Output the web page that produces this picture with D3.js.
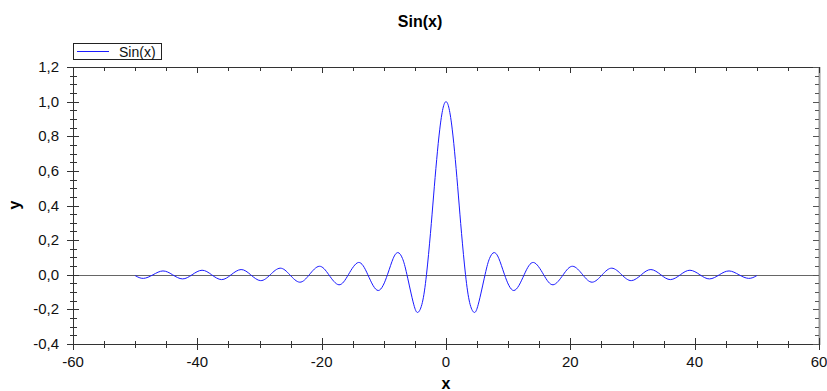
<!DOCTYPE html>
<html>
<head>
<meta charset="utf-8">
<script src="https://cdn.jsdelivr.net/npm/d3@7/dist/d3.min.js"></script>
<style>
  html, body { margin: 0; padding: 0; background: #fff; }
  svg { display: block; font-family: "Liberation Sans", Arial, sans-serif; }
</style>
</head>
<body>
<svg id="chart" width="827" height="391"></svg>
<script>
// ---- data ----
const chartTitle = "Sin(x)";
const seriesName = "Sin(x)";
const xLabel = "x";
const yLabel = "y";
const xTicks = [-60, -40, -20, 0, 20, 40, 60];
const yTicks = [-0.4, -0.2, 0.0, 0.2, 0.4, 0.6, 0.8, 1.0, 1.2];
const xValues = [
  -50.0, -48.68, -47.12, -45.53, -43.98, -42.39, -40.84, -39.24, -37.70, -36.10,
  -34.56, -32.96, -31.42, -29.81, -28.27, -26.67, -25.13, -23.52, -21.99, -20.37,
  -18.85, -17.22, -15.71, -14.07, -12.57, -10.90, -9.42, -8.5, -7.73, -7.0,
  -6.28, -5.2, -4.49, -3.8, -3.14, -2.5, -2.0, -1.5, -1.0, -0.5,
  0,
  0.5, 1.0, 1.5, 2.0, 2.5, 3.14, 3.8, 4.49, 5.2, 6.28,
  7.0, 7.73, 8.5, 9.42, 10.90, 12.57, 14.07, 15.71, 17.22, 18.85,
  20.37, 21.99, 23.52, 25.13, 26.67, 28.27, 29.81, 31.42, 32.96, 34.56,
  36.10, 37.70, 39.24, 40.84, 42.39, 43.98, 45.53, 47.12, 48.68, 50.0
];
const yValues = [
  -0.005, -0.021, 0, 0.022, 0, -0.024, 0, 0.026, 0, -0.028,
  0, 0.030, 0, -0.034, 0, 0.038, 0, -0.043, 0, 0.049,
  0, -0.058, 0, 0.071, 0, -0.091, 0, 0.094, 0.128, 0.094,
  0, -0.170, -0.217, -0.160, 0, 0.239, 0.455, 0.665, 0.841, 0.959,
  1.0,
  0.959, 0.841, 0.665, 0.455, 0.239, 0, -0.160, -0.217, -0.170, 0,
  0.094, 0.128, 0.094, 0, -0.091, 0, 0.071, 0, -0.058, 0,
  0.049, 0, -0.043, 0, 0.038, 0, -0.034, 0, 0.030, 0,
  -0.028, 0, 0.026, 0, -0.024, 0, 0.022, 0, -0.021, -0.005
];

// ---- layout ----
const svg = d3.select("#chart");
const padL = 73, padR = 819, padT = 67, padB = 344;

const x = d3.scaleLinear().domain([-60, 60]).range([padL, padR]);
const y = d3.scaleLinear().domain([-0.4, 1.2]).range([padB, padT]);

const fmt = d => d3.format(".1f")(d).replace(".", ",").replace("−", "-");
const xMinor = d3.range(-60, 60.001, 5);
const yMinor = d3.range(-0.4, 1.2001, 0.05);

// zero line
svg.append("line")
  .attr("x1", padL).attr("x2", padR)
  .attr("y1", Math.round(y(0)) + 0.5).attr("y2", Math.round(y(0)) + 0.5)
  .attr("stroke", "#666").attr("stroke-width", 1);

// curve
const pts = xValues.map((v, i) => [v, yValues[i]]);
svg.append("path")
  .datum(pts)
  .attr("fill", "none")
  .attr("stroke", "#1a1aff")
  .attr("stroke-width", 1)
  .attr("d", d3.line().x(d => x(d[0])).y(d => y(d[1])).curve(d3.curveNatural));

// frame
const frame = svg.append("g").attr("stroke", "#333").attr("stroke-width", 1);
frame.append("line").attr("x1", padL).attr("x2", padR).attr("y1", padT + 0.5).attr("y2", padT + 0.5);
frame.append("line").attr("x1", padL).attr("x2", padR).attr("y1", padB + 0.5).attr("y2", padB + 0.5);
frame.append("line").attr("x1", padL + 0.5).attr("x2", padL + 0.5).attr("y1", padT).attr("y2", padB + 1);
svg.append("line").attr("x1", padR + 0.5).attr("x2", padR + 0.5).attr("y1", padT).attr("y2", padB + 1)
  .attr("stroke", "#999").attr("stroke-width", 2);

// bottom/top axis ticks
const isMajorX = v => Math.abs(v / 20 - Math.round(v / 20)) < 1e-6;
xMinor.forEach(v => {
  const px = Math.round(x(v)) + 0.5;
  const maj = isMajorX(v);
  svg.append("line").attr("x1", px).attr("x2", px)
    .attr("y1", padB - (maj ? 6 : 3)).attr("y2", padB + (maj ? 6 : 4))
    .attr("stroke", "#333");
  svg.append("line").attr("x1", px).attr("x2", px)
    .attr("y1", padT).attr("y2", padT + (maj ? 6 : 4))
    .attr("stroke", "#333");
});
// left/right axis ticks
const isMajorY = v => Math.abs(v / 0.2 - Math.round(v / 0.2)) < 1e-6;
yMinor.forEach(v => {
  const py = Math.round(y(v)) + 0.5;
  const maj = isMajorY(v);
  svg.append("line").attr("y1", py).attr("y2", py)
    .attr("x1", padL - (maj ? 6 : 3)).attr("x2", padL + (maj ? 6 : 4))
    .attr("stroke", "#333");
  svg.append("line").attr("y1", py).attr("y2", py)
    .attr("x1", padR - (maj ? 6 : 4)).attr("x2", padR)
    .attr("stroke", "#555");
});

// tick labels
svg.append("g").selectAll("text").data(xTicks).join("text")
  .attr("x", d => x(d)).attr("y", 367)
  .attr("text-anchor", "middle")
  .attr("font-size", 15).attr("fill", "#111")
  .text(d => d3.format("d")(d).replace("−", "-"));
svg.append("g").selectAll("text").data(yTicks).join("text")
  .attr("x", 59).attr("y", d => y(d) + 5)
  .attr("text-anchor", "end")
  .attr("font-size", 15).attr("fill", "#111")
  .text(d => fmt(d));

// title & axis labels
svg.append("text").attr("x", 420).attr("y", 27).attr("text-anchor", "middle")
  .attr("font-size", 16).attr("font-weight", "bold").text(chartTitle);
svg.append("text").attr("x", 446).attr("y", 389).attr("text-anchor", "middle")
  .attr("font-size", 16).attr("font-weight", "bold").text(xLabel);
svg.append("text").attr("transform", "translate(20,205) rotate(-90)").attr("text-anchor", "middle")
  .attr("font-size", 16).attr("font-weight", "bold").text(yLabel);

// legend
svg.append("rect").attr("x", 73.5).attr("y", 43.5).attr("width", 88).attr("height", 16)
  .attr("fill", "#fff").attr("stroke", "#222").attr("stroke-width", 1);
svg.append("line").attr("x1", 77).attr("x2", 109).attr("y1", 51.5).attr("y2", 51.5)
  .attr("stroke", "#1a1aff").attr("stroke-width", 1);
svg.append("text").attr("x", 119).attr("y", 56.5).attr("font-size", 14).attr("fill", "#111").text(seriesName);
</script>
</body>
</html>
